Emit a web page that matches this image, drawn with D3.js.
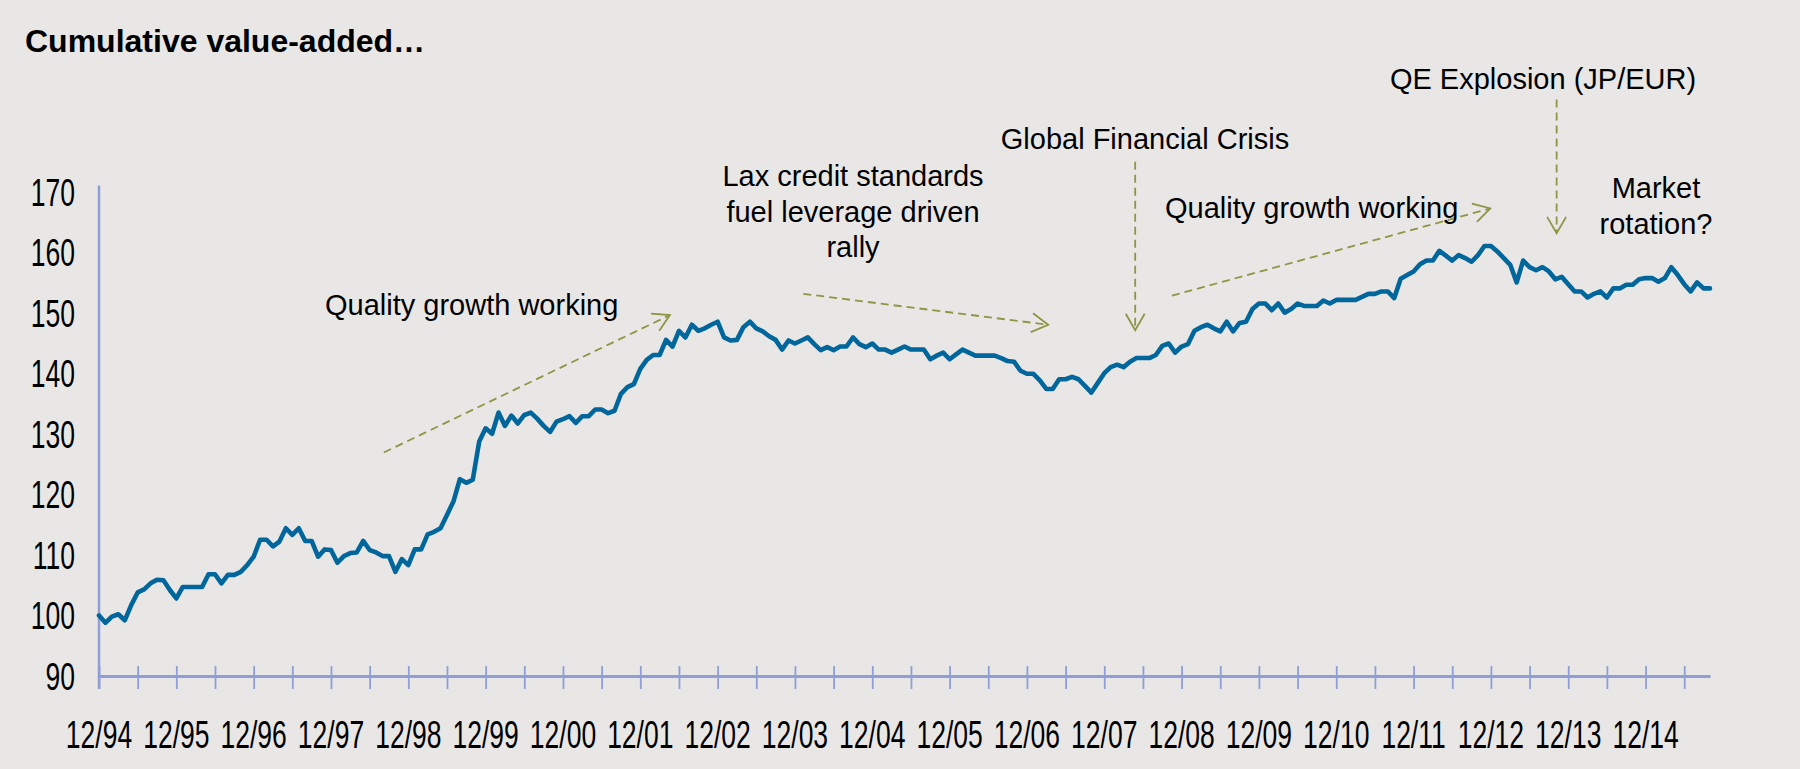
<!DOCTYPE html>
<html>
<head>
<meta charset="utf-8">
<script src="https://cdn.jsdelivr.net/npm/d3@7"></script>
<style>
  html, body { margin: 0; padding: 0; background: #E8E7E5; }
  svg { display: block; }
</style>
</head>
<body>
<script>
// ---------------- data ----------------
const title = "Cumulative value-added…";
const startLabel = "12/94"; // first month of the monthly series
const values = [
  100.0, 98.8, 99.8, 100.2, 99.2, 101.7, 103.8, 104.3, 105.3, 105.9,
  105.8, 104.2, 102.8, 104.7, 104.7, 104.7, 104.7, 106.8, 106.8, 105.3,
  106.7, 106.7, 107.2, 108.3, 109.7, 112.5, 112.5, 111.4, 112.2, 114.4,
  113.3, 114.4, 112.3, 112.3, 109.7, 110.9, 110.8, 108.7, 109.8, 110.3,
  110.4, 112.3, 110.8, 110.4, 109.8, 109.8, 107.2, 109.3, 108.3, 110.9,
  110.9, 113.4, 113.8, 114.4, 116.6, 118.8, 122.5, 121.9, 122.4, 128.7,
  130.9, 130.0, 133.5, 131.3, 133.0, 131.7, 133.1, 133.5, 132.5, 131.3,
  130.3, 132.0, 132.4, 132.9, 131.8, 132.9, 132.9, 134.0, 134.0, 133.4,
  133.8, 136.6, 137.7, 138.2, 140.7, 142.2, 143.0, 143.0, 145.5, 144.4,
  147.0, 145.9, 148.0, 147.0, 147.4, 148.0, 148.5, 145.9, 145.4, 145.5,
  147.6, 148.5, 147.4, 146.9, 146.1, 145.5, 143.9, 145.4, 144.9, 145.4,
  145.9, 144.8, 143.8, 144.3, 143.8, 144.4, 144.4, 145.9, 144.8, 144.3,
  144.9, 143.9, 143.9, 143.4, 143.9, 144.4, 143.9, 143.9, 143.9, 142.3,
  142.9, 143.4, 142.3, 143.1, 143.9, 143.4, 142.9, 142.9, 142.9, 142.9,
  142.5, 142.0, 141.9, 140.4, 139.9, 139.9, 138.8, 137.4, 137.4, 139.0,
  139.0, 139.4, 139.0, 137.9, 136.8, 138.4, 140.0, 141.0, 141.4, 141.0,
  141.9, 142.5, 142.5, 142.5, 143.0, 144.5, 144.9, 143.4, 144.4, 144.8,
  147.0, 147.6, 148.0, 147.4, 146.9, 148.5, 146.9, 148.3, 148.5, 150.6,
  151.5, 151.5, 150.4, 151.5, 150.0, 150.6, 151.5, 151.1, 151.1, 151.1,
  152.0, 151.5, 152.1, 152.1, 152.1, 152.1, 152.6, 153.1, 153.1, 153.5,
  153.5, 152.4, 155.6, 156.2, 156.8, 158.0, 158.6, 158.6, 160.2, 159.4,
  158.6, 159.5, 159.0, 158.4, 159.5, 161.0, 161.0, 160.1, 159.0, 157.9,
  155.0, 158.6, 157.5, 157.0, 157.5, 156.8, 155.5, 155.9, 154.7, 153.5,
  153.5, 152.5, 153.1, 153.5, 152.5, 154.0, 154.0, 154.6, 154.6, 155.5,
  155.7, 155.7, 155.1, 155.7, 157.5, 156.2, 154.7, 153.5, 155.0, 154.0,
  154.0
];
const yTicks = [90, 100, 110, 120, 130, 140, 150, 160, 170];
const xLabels = ["12/94","12/95","12/96","12/97","12/98","12/99","12/00","12/01",
  "12/02","12/03","12/04","12/05","12/06","12/07","12/08","12/09","12/10",
  "12/11","12/12","12/13","12/14"];
// annotation arrows, in data space: [monthIndexFrom, valueFrom, monthIndexTo, valueTo]
const arrowFrom = [[44.2, 126.9], [109.3, 153.1], [160.8, 174.9], [166.5, 152.8], [226.2, 185.2]];
const arrowTo   = [[88.6, 149.6], [147.3, 148.0], [160.8, 147.1], [215.9, 167.2], [226.2, 163.1]];
const noteTexts = [
  ["Quality growth working"],
  ["Lax credit standards", "fuel leverage driven", "rally"],
  ["Global Financial Crisis"],
  ["Quality growth working"],
  ["QE Explosion (JP/EUR)"],
  ["Market", "rotation?"]
];

// ---------------- layout ----------------
const W = 1800, H = 769;
const FONT = "'Liberation Sans', Arial, Helvetica, sans-serif";
const svg = d3.select("body").append("svg").attr("width", W).attr("height", H);
svg.append("rect").attr("width", W).attr("height", H).attr("fill", "#E8E7E5");

const x = d3.scaleLinear().domain([0, values.length - 1]).range([99, 1710]);
const y = d3.scaleLinear().domain([90, 170]).range([676, 191.5]);

const axisColor = "#8F9ED6";

// title
svg.append("text").attr("x", 25).attr("y", 52)
  .attr("font-family", FONT).attr("font-weight", "bold").attr("font-size", 32)
  .attr("fill", "#000").text(title);

// x axis
const xAxis = svg.append("g").attr("transform", `translate(0,${y(90)})`)
  .call(d3.axisBottom(x).tickValues(d3.range(0, values.length, 6)).tickFormat("").tickSizeOuter(0));
xAxis.select(".domain").attr("stroke", axisColor).attr("stroke-width", 3);
xAxis.selectAll(".tick line").attr("stroke", axisColor).attr("stroke-width", 1.8)
  .attr("y1", -10).attr("y2", 13);

// x labels (every 12 months)
const xLab = svg.append("g").attr("transform", `translate(0,${y(90)})`);
xLab.selectAll("text").data(xLabels).join("text")
  .attr("transform", (d, i) => `translate(${x(i * 12)},72) scale(0.68,1)`)
  .attr("text-anchor", "middle")
  .attr("font-family", FONT).attr("font-size", 39).attr("fill", "#000")
  .text(d => d);

// y axis line
svg.append("line")
  .attr("x1", x(0)).attr("x2", x(0))
  .attr("y1", y(170) - 6).attr("y2", y(90) + 13)
  .attr("stroke", axisColor).attr("stroke-width", 2.5);

// y labels
svg.append("g").selectAll("text").data(yTicks).join("text")
  .attr("transform", d => `translate(75,${y(d)}) scale(0.68,1)`)
  .attr("text-anchor", "end").attr("dy", "0.36em")
  .attr("font-family", FONT).attr("font-size", 39).attr("fill", "#000")
  .text(d => d);

// series line
const line = d3.line().x((d, i) => x(i)).y(d => y(d));
svg.append("path").datum(values)
  .attr("d", line)
  .attr("fill", "none").attr("stroke", "#00669C").attr("stroke-width", 4.6)
  .attr("stroke-linejoin", "round").attr("stroke-linecap", "round");

// annotation arrows
const arrowColor = "#8C9645";
const ag = svg.append("g");
arrowFrom.forEach((f, k) => {
  const t = arrowTo[k];
  const x1 = x(f[0]), y1 = y(f[1]), x2 = x(t[0]), y2 = y(t[1]);
  ag.append("line").attr("x1", x1).attr("y1", y1).attr("x2", x2).attr("y2", y2)
    .attr("stroke", arrowColor).attr("stroke-width", 1.8).attr("stroke-dasharray", "8,5");
  const ang = Math.atan2(y1 - y2, x1 - x2);
  const L = 19, a = Math.PI / 6;
  const p1 = [x2 + L * Math.cos(ang + a), y2 + L * Math.sin(ang + a)];
  const p2 = [x2 + L * Math.cos(ang - a), y2 + L * Math.sin(ang - a)];
  ag.append("path").attr("d", `M${p1[0]},${p1[1]}L${x2},${y2}L${p2[0]},${p2[1]}`)
    .attr("fill", "none").attr("stroke", arrowColor).attr("stroke-width", 1.8);
});

// annotation texts (layout positions)
const notePos = [
  {x: 325, y: 315, anchor: "start"},
  {x: 853, y: 186, anchor: "middle"},
  {x: 1145, y: 149, anchor: "middle"},
  {x: 1165, y: 218, anchor: "start"},
  {x: 1543, y: 89, anchor: "middle"},
  {x: 1656, y: 198, anchor: "middle"}
];
noteTexts.forEach((lines, k) => {
  const p = notePos[k];
  const t = svg.append("text").attr("font-family", FONT).attr("font-size", 29)
    .attr("fill", "#000").attr("text-anchor", p.anchor);
  lines.forEach((s, j) => {
    t.append("tspan").attr("x", p.x).attr("y", p.y + j * 35.5).text(s);
  });
});
</script>
</body>
</html>
